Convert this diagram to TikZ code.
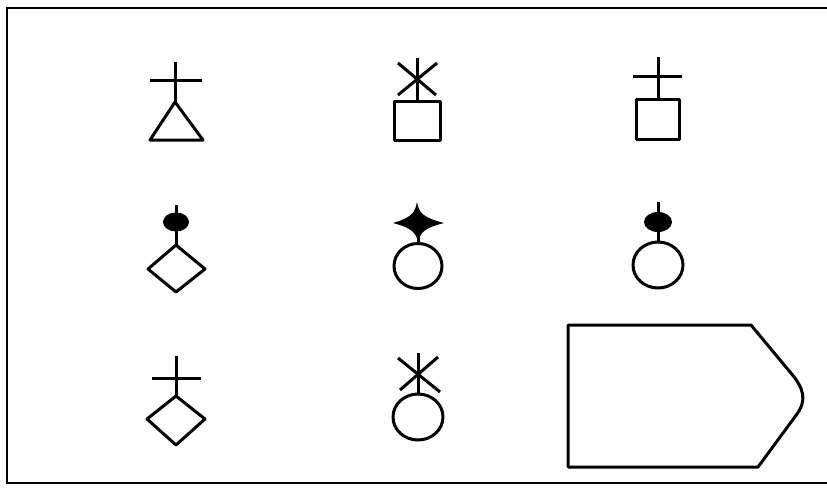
\documentclass[tikz,border=0pt]{standalone}
\begin{document}
\begin{tikzpicture}[x=1pt,y=-1pt,
  sym/.style={line width=3pt,line join=round},
  frame/.style={line width=1.6pt}]
\useasboundingbox (0,0) rectangle (827,498);
% frame (right side open)
\draw[frame] (827,8) -- (7,8) -- (7,483) -- (827,483);
% 1: triangle with cross
\draw[sym] (175,62) -- (175,102);
\draw[sym] (150,80) -- (202,80);
\draw[sym] (175,102) -- (203,140) -- (150,140) -- cycle;
% 2: square with asterisk
\draw[sym] (417,58) -- (417,101);
\draw[sym] (398,63) -- (436,95);
\draw[sym] (437,63) -- (398,95);
\draw[sym] (394,101) rectangle (440,140);
% 3: square with cross
\draw[sym] (658,57) -- (658,99);
\draw[sym] (633,76) -- (682,76);
\draw[sym] (636,99) rectangle (679,139);
% 4: diamond with dot
\draw[sym] (176,205) -- (176,245);
\fill (176,222) ellipse [x radius=13,y radius=9.5];
\draw[sym] (176,245) -- (205,269) -- (176,292) -- (148,269) -- cycle;
% 5: circle with star
\fill (417,202) .. controls (419,212) and (421,217) .. (444,223)
  .. controls (424,228) and (422,232) .. (418,240)
  .. controls (414,232) and (412,228) .. (393,223)
  .. controls (413,217) and (415,212) .. (417,202) -- cycle;
\draw[sym] (418,225) -- (418,243);
\draw[sym] (418,266) ellipse [x radius=24,y radius=22.5];
% 6: circle with dot
\draw[sym] (658,202) -- (658,242);
\fill (658,222) ellipse [x radius=14,y radius=10];
\draw[sym] (658,265) ellipse [x radius=25,y radius=23];
% 7: diamond with cross
\draw[sym] (176,356) -- (176,396);
\draw[sym] (152,378) -- (201,378);
\draw[sym] (176,396) -- (205,419) -- (176,445) -- (147,419) -- cycle;
% 8: circle with asterisk
\draw[sym] (418,353) -- (418,393);
\draw[sym] (398,358) -- (440,392);
\draw[sym] (438,357) -- (400,390);
\draw[sym] (418,417) ellipse [x radius=25,y radius=23];
% 9: pentagon with rounded tip
\draw[sym] (568,325) -- (751,325) -- (790,372)
  .. controls (804,388) and (807,400) .. (797,414)
  -- (758,467) -- (568,467) -- cycle;
\end{tikzpicture}
\end{document}
